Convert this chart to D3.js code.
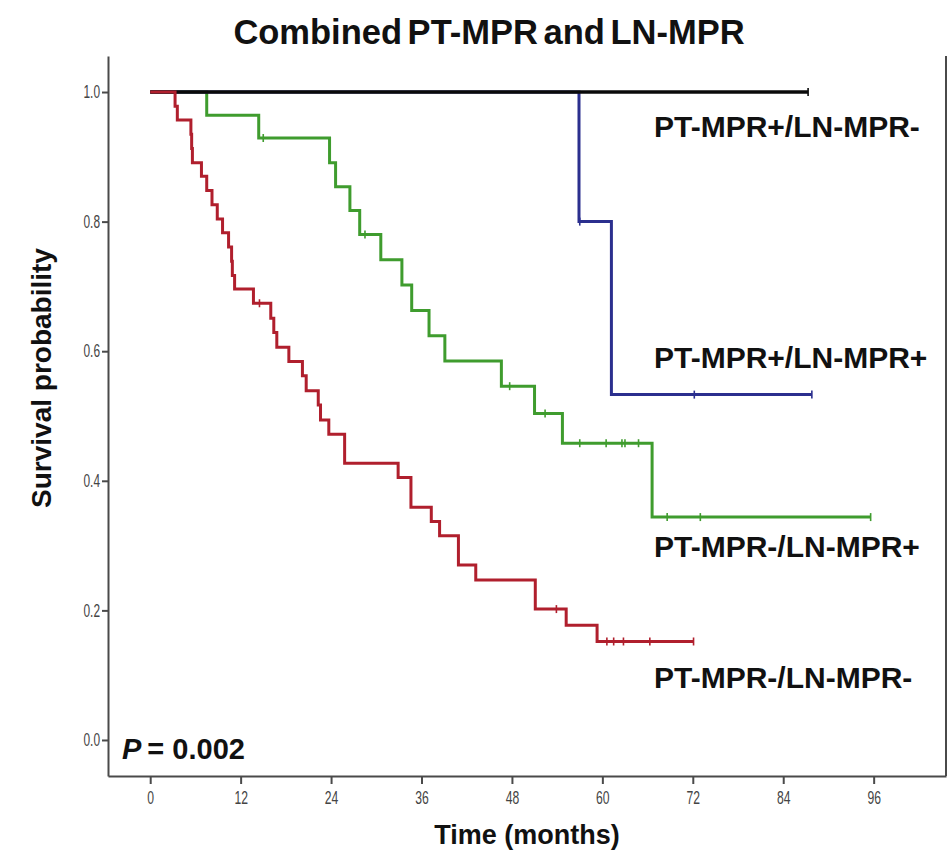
<!DOCTYPE html>
<html>
<head>
<meta charset="utf-8">
<script src="https://cdn.jsdelivr.net/npm/d3@7/dist/d3.min.js"></script>
<style>
  html, body { margin: 0; padding: 0; background: #fff; }
  svg { display: block; }
</style>
</head>
<body>
<svg id="chart" width="951" height="860"></svg>
<script>
// ---------------- DATA ----------------
const chartTitle = "Combined PT-MPR and LN-MPR";
const xTitle = "Time (months)";
const yTitle = "Survival probability";
const pText = "= 0.002";
const xTicks = [0, 12, 24, 36, 48, 60, 72, 84, 96];
const yTicks = [0.0, 0.2, 0.4, 0.6, 0.8, 1.0];
const groupNames = ["PT-MPR+/LN-MPR-", "PT-MPR+/LN-MPR+", "PT-MPR-/LN-MPR+", "PT-MPR-/LN-MPR-"];

// PT-MPR+/LN-MPR- (black)
const blackEventTimes = [];
const blackSurvival = [];
const blackCensorTimes = [87.3];
const blackEnd = 87.3;

// PT-MPR+/LN-MPR+ (blue)
const blueEventTimes = [56.9, 61.2];
const blueSurvival = [0.800, 0.533];
const blueCensorTimes = [57.0, 72.2, 87.8];
const blueEnd = 87.8;

// PT-MPR-/LN-MPR+ (green)
const greenEventTimes = [7.5, 14.4, 23.8, 24.6, 26.5, 27.8, 30.6, 33.4, 34.7, 37.0, 39.1, 46.6, 51.0, 54.7, 66.6];
const greenSurvival  = [0.964, 0.929, 0.891, 0.854, 0.817, 0.780, 0.741, 0.702, 0.663, 0.624, 0.585, 0.546, 0.504, 0.458, 0.344];
const greenCensorTimes = [15.0, 28.5, 47.7, 52.4, 57.0, 60.5, 62.6, 63.0, 64.8, 68.6, 73.0, 95.6];
const greenEnd = 95.6;

// PT-MPR-/LN-MPR- (red)
const redEventTimes = [3.3, 3.6, 5.4, 5.5, 5.6, 6.8, 7.5, 8.2, 8.9, 9.6, 10.4, 10.8, 10.9, 11.2, 13.7, 16.0, 16.4, 16.8, 18.4, 20.2, 20.7, 22.3, 22.6, 23.7, 25.8, 32.9, 34.6, 37.3, 38.4, 40.9, 43.2, 51.1, 55.2, 59.3];
const redSurvival  = [0.978, 0.957, 0.935, 0.913, 0.891, 0.870, 0.848, 0.826, 0.804, 0.783, 0.761, 0.739, 0.717, 0.696, 0.674, 0.651, 0.629, 0.606, 0.584, 0.562, 0.539, 0.517, 0.494, 0.472, 0.427, 0.405, 0.359, 0.337, 0.315, 0.270, 0.247, 0.202, 0.177, 0.152];
const redCensorTimes = [14.5, 53.9, 60.6, 61.5, 62.8, 66.3, 72.1];
const redEnd = 72.1;

// ---------------- LAYOUT ----------------
const svg = d3.select("#chart");
const plotLeft = 108, plotRight = 946, plotTop = 56, plotBottom = 776;

const x = d3.scaleLinear().domain([-5.6, 105.6]).range([plotLeft, plotRight]);
const y = d3.scaleLinear().domain([-0.0556, 1.0556]).range([plotBottom, plotTop]);

const axisColor = "#4a4a4a";
const tickTextColor = "#444";

// frame
svg.append("line").attr("x1", plotRight).attr("x2", plotRight).attr("y1", plotTop).attr("y2", plotBottom)
  .attr("stroke", axisColor).attr("stroke-width", 2);

// x axis
const gx = svg.append("g").attr("transform", `translate(0,${plotBottom})`)
  .call(d3.axisBottom(x).tickValues(xTicks).tickSize(8).tickSizeOuter(0).tickPadding(7).tickFormat(d3.format("d")));
gx.select(".domain").attr("stroke", axisColor).attr("stroke-width", 2);
gx.selectAll(".tick line").attr("stroke", axisColor).attr("stroke-width", 2);
gx.selectAll(".tick text")
  .attr("font-family", "Liberation Sans, Arial, sans-serif")
  .attr("font-size", 19).attr("fill", tickTextColor)
  .attr("transform", "scale(0.64,1)");

// y axis
const gy = svg.append("g").attr("transform", `translate(${plotLeft},0)`)
  .call(d3.axisLeft(y).tickValues(yTicks).tickSize(6).tickSizeOuter(0).tickPadding(2).tickFormat(d3.format(".1f")));
gy.select(".domain").attr("stroke", axisColor).attr("stroke-width", 2);
gy.selectAll(".tick line").attr("stroke", axisColor).attr("stroke-width", 2);
gy.selectAll(".tick text")
  .attr("font-family", "Liberation Sans, Arial, sans-serif")
  .attr("font-size", 18).attr("fill", tickTextColor)
  .attr("x", -8 / 0.66)
  .attr("transform", "scale(0.66,1)");

// ---------------- CURVES ----------------
function stepPoints(times, surv, end) {
  const pts = [[0, 1]];
  times.forEach((t, i) => pts.push([t, surv[i]]));
  pts.push([end, surv.length ? surv[surv.length - 1] : 1]);
  return pts;
}
function survAt(times, surv, t) {
  let s = 1;
  times.forEach((tt, i) => { if (tt <= t) s = surv[i]; });
  return s;
}

const series = [
  { name: groupNames[2], color: "#3f9c2e", times: greenEventTimes, surv: greenSurvival, cens: greenCensorTimes, end: greenEnd },
  { name: groupNames[1], color: "#2b2f8e", times: blueEventTimes, surv: blueSurvival, cens: blueCensorTimes, end: blueEnd },
  { name: groupNames[0], color: "#0a0a0a", times: blackEventTimes, surv: blackSurvival, cens: blackCensorTimes, end: blackEnd },
  { name: groupNames[3], color: "#b01f2d", times: redEventTimes, surv: redSurvival, cens: redCensorTimes, end: redEnd }
];

const line = d3.line().x(d => x(d[0])).y(d => y(d[1])).curve(d3.curveStepAfter);

series.forEach(s => {
  svg.append("path")
    .datum(stepPoints(s.times, s.surv, s.end))
    .attr("d", line)
    .attr("fill", "none")
    .attr("stroke", s.color)
    .attr("stroke-width", s.color === "#0a0a0a" ? 3.5 : 3);
  svg.selectAll(null).data(s.cens).enter().append("line")
    .attr("x1", d => x(d)).attr("x2", d => x(d))
    .attr("y1", d => y(survAt(s.times, s.surv, d)) - 4)
    .attr("y2", d => y(survAt(s.times, s.surv, d)) + 4)
    .attr("stroke", s.color).attr("stroke-width", 1.6);
});

// ---------------- TEXT ----------------
const boldFont = "Liberation Sans, Arial, Helvetica, sans-serif";

svg.append("text").attr("x", 489).attr("y", 44).attr("text-anchor", "middle")
  .attr("font-family", boldFont).attr("font-weight", "bold").attr("font-size", 34.5)
  .attr("word-spacing", -4).attr("fill", "#111").text(chartTitle);

svg.append("text").attr("x", 527).attr("y", 844).attr("text-anchor", "middle")
  .attr("font-family", boldFont).attr("font-weight", "bold").attr("font-size", 27)
  .attr("fill", "#111").text(xTitle);

svg.append("text").attr("transform", "translate(51,378) rotate(-90)").attr("text-anchor", "middle")
  .attr("font-family", boldFont).attr("font-weight", "bold").attr("font-size", 28)
  .attr("fill", "#111").text(yTitle);

const labelPos = [[654, 137], [654, 368], [654, 557], [654, 688]];
groupNames.forEach((g, i) => {
  svg.append("text").attr("x", labelPos[i][0]).attr("y", labelPos[i][1])
    .attr("font-family", boldFont).attr("font-weight", "bold").attr("font-size", 30)
    .attr("fill", "#111").text(g);
});

const pt = svg.append("text").attr("x", 122).attr("y", 759)
  .attr("font-family", boldFont).attr("font-weight", "bold").attr("font-size", 29).attr("fill", "#111");
pt.append("tspan").attr("font-style", "italic").text("P");
pt.append("tspan").attr("dx", 6).text(pText);
</script>
</body>
</html>
